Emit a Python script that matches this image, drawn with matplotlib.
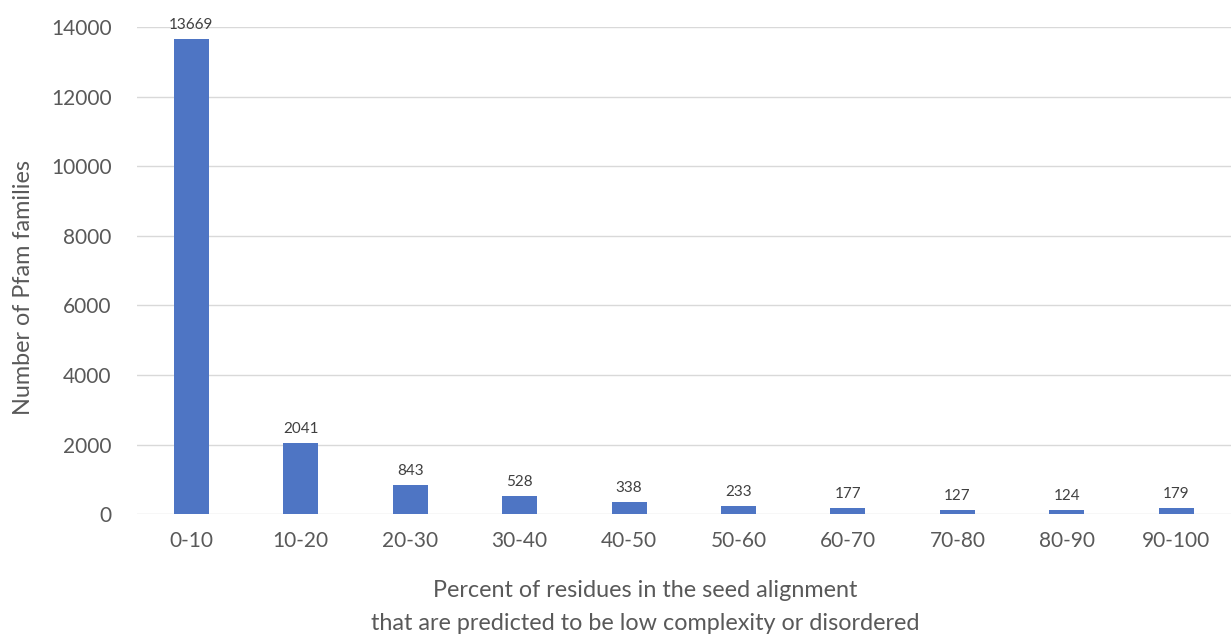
import matplotlib
matplotlib.use('Agg')
import matplotlib.pyplot as plt

categories = ['0-10', '10-20', '20-30', '30-40', '40-50',
              '50-60', '60-70', '70-80', '80-90', '90-100']
counts = [13669, 2041, 843, 528, 338, 233, 177, 127, 124, 179]
yticks = [0, 2000, 4000, 6000, 8000, 10000, 12000, 14000]

plt.rcParams['font.family'] = ['Lato', 'DejaVu Sans']
grey = '#595959'

fig = plt.figure(figsize=(12.31, 6.34), dpi=100)
ax = fig.add_axes([0.111, 0.189, 0.889, 0.768])

x = range(len(categories))
bars = ax.bar(x, counts, width=0.32, color='#4e75c4', zorder=3)
for xi, v in zip(x, counts):
    ax.annotate(str(v), (xi, v), xytext=(0, 5), textcoords='offset points',
                ha='center', va='bottom', fontsize=11, color='#404040')

ax.set_xlim(-0.5, len(categories) - 0.5)
ax.set_ylim(0, 14000)
ax.set_yticks(yticks)
ax.set_xticks(list(x))
ax.set_xticklabels(categories)
ax.tick_params(axis='both', length=0, labelsize=15, colors=grey)
ax.tick_params(axis='x', pad=12)
ax.tick_params(axis='y', pad=18)
ax.grid(axis='y', color='#d9d9d9', linewidth=1, zorder=0)
for s in ax.spines.values():
    s.set_visible(False)

ax.set_ylabel('Number of Pfam families', fontsize=16.8, color=grey, labelpad=12)
ax.yaxis.label.set_y(0.466)
ax.set_xlabel('Percent of residues in the seed alignment\n'
              'that are predicted to be low complexity or disordered',
              fontsize=16.8, color=grey, labelpad=21, linespacing=1.7)
ax.xaxis.label.set_x(0.465)

fig.savefig('out.png', dpi=100)
